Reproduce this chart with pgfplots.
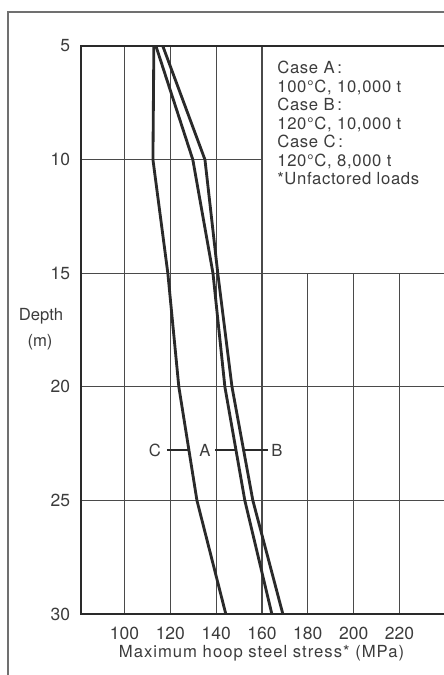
\documentclass[border=0pt]{standalone}
\usepackage{pgfplots}
\pgfplotsset{compat=1.18}
\usepackage{fontspec}
\setmainfont{TeX Gyre Heros}

\definecolor{ink}{HTML}{2A2A2A}
\definecolor{txt}{HTML}{3C3C3C}
\definecolor{grd}{HTML}{4A4A4A}
\definecolor{frm}{HTML}{707070}

% 1 px of the reference = 0.6pt
\newcommand{\PX}[2]{({#1*0.6pt},{(675-#2)*0.6pt})}

\begin{document}
\begin{tikzpicture}[font=\fontsize{10}{12}\selectfont, text=txt]
\begin{axis}[
  at={(48.6pt,36.6pt)}, anchor=south west,
  scale only axis,
  width=217.2pt, height=340.8pt,
  xmin=81, xmax=239,
  ymin=5, ymax=30,
  y dir=reverse,
  axis line style={draw=none},
  tick style={draw=none},
  xtick={100,120,...,220},
  ytick={5,10,...,30},
  /pgf/number format/assume math mode=true,
  /pgf/number format/set thousands separator={},
  ticklabel style={font=\fontsize{10.5}{12}\selectfont},
  xticklabel style={yshift=-4.2pt},
  yticklabel style={xshift=-3pt},
  clip=false,
]
% partial grid, as in the original figure
\draw[grd, line width=0.8pt] (axis cs:81,10) -- (axis cs:160,10);
\pgfplotsinvokeforeach{15,20,25}{
  \draw[grd, line width=0.8pt] (axis cs:81,#1) -- (axis cs:241,#1);
}
\pgfplotsinvokeforeach{100,120,140,160}{
  \draw[grd, line width=0.8pt] (axis cs:#1,5) -- (axis cs:#1,30);
}
\pgfplotsinvokeforeach{180,200,220}{
  \draw[grd, line width=0.8pt] (axis cs:#1,15) -- (axis cs:#1,30);
}
% frame
\draw[ink, line width=1.2pt] (axis cs:241,5) -- (axis cs:81,5) -- (axis cs:81,30) -- (axis cs:241,30);

% Case C
\addplot[ink, line width=1.7pt] coordinates {
  (112.8,5) (112.4,10) (118.9,15) (123.7,20) (131.6,25) (144.2,30)};
% Case A
\addplot[ink, line width=1.7pt] coordinates {
  (113.7,5) (129.8,10) (138.6,15) (143.8,20) (152.5,25) (164.3,30)};
% Case B
\addplot[ink, line width=1.7pt] coordinates {
  (116.7,5) (135.1,10) (140.7,15) (146.9,20) (156.0,25) (169.1,30)};

% curve labels with leaders
\draw[ink, line width=0.9pt] (axis cs:118.5,22.78) -- (axis cs:128.3,22.78);
\draw[ink, line width=0.9pt] (axis cs:139.4,22.78) -- (axis cs:149.0,22.78);
\draw[ink, line width=0.9pt] (axis cs:152.5,22.78) -- (axis cs:162.6,22.78);
\node at (axis cs:113.3,22.78) {C};
\node at (axis cs:135.1,22.78) {A};
\node at (axis cs:166.5,22.78) {B};
\end{axis}

% outer frame of the figure
\draw[frm, line width=1pt] \PX{8}{680} -- \PX{8}{12} -- \PX{450}{12};

% axis titles
\node[anchor=base] at \PX{41}{321} {Depth};
\node[anchor=base] at \PX{40}{347} {(m)};
\node[anchor=base] at \PX{261.5}{658} {\addfontfeature{LetterSpace=6}Maximum hoop steel stress* (MPa)};

% key
\begin{scope}[font=\fontsize{10}{12}\selectfont\addfontfeature{LetterSpace=4}]
\node[anchor=base west, inner sep=0pt] at \PX{277}{74} {Case A\,:};
\node[anchor=base west, inner sep=0pt] at \PX{277}{92.5} {100°C, 10,000 t};
\node[anchor=base west, inner sep=0pt] at \PX{277}{111} {Case B\,:};
\node[anchor=base west, inner sep=0pt] at \PX{277}{129.5} {120°C, 10,000 t};
\node[anchor=base west, inner sep=0pt] at \PX{277}{148} {Case C\,:};
\node[anchor=base west, inner sep=0pt] at \PX{277}{166.5} {120°C, 8,000 t};
\node[anchor=base west, inner sep=0pt] at \PX{277}{185} {*Unfactored loads};
\end{scope}

\pgfresetboundingbox
\path[use as bounding box] (0,0) rectangle (265.8pt,405pt);
\end{tikzpicture}
\end{document}
